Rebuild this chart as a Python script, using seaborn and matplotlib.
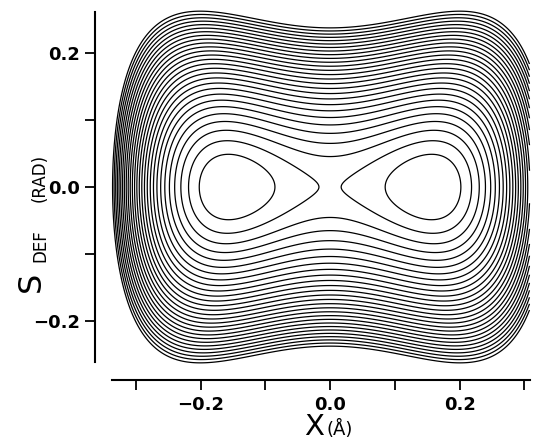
import numpy as np
import matplotlib
matplotlib.use("Agg")
import matplotlib.pyplot as plt
import seaborn as sns

# Model double-well surface in the proton coordinate X and the deformation S:
#   V(X, S) = H * ((X / X0)^2 - 1)^2 + (K0 - K2 * (X / X0)^2) * S^2
X_RANGE = [-0.342, 0.308]     # Å, extent of the computed grid
S_RANGE = [-0.27, 0.27]       # rad
WELL_X = [0.155]              # Å, minima at ±X0
BARRIER = [2.05]              # barrier height at X = 0 (contour units)
K_S = [460.0, 40.0]           # S force constant at X = 0 and its softening
LEVELS = list(range(1, 29))   # contour values, one unit apart

X_TICKS = [-0.2, 0.0, 0.2]
X_MINOR = [-0.3, -0.1, 0.1, 0.3]
Y_TICKS = [-0.2, 0.0, 0.2]
Y_MINOR = [-0.1, 0.1]

sns.set_theme(style="ticks")
plt.rcParams["font.family"] = ["DejaVu Sans"]

x = np.linspace(X_RANGE[0], X_RANGE[1], 700)
s = np.linspace(S_RANGE[0], S_RANGE[1], 600)
XX, SS = np.meshgrid(x, s)
u2 = (XX / WELL_X[0]) ** 2
V = BARRIER[0] * (u2 - 1.0) ** 2 + (K_S[0] - K_S[1] * u2) * SS ** 2

fig = plt.figure(figsize=(5.42, 4.42), dpi=100)
fig.patch.set_facecolor("white")
ax = fig.add_axes([0.1908, 0.1676, 0.7945, 0.8186])
ax.set_facecolor("white")

ax.contour(XX, SS, V, levels=LEVELS, colors="black", linewidths=0.9)

ax.set_xlim(-0.35, 0.315)
ax.set_ylim(-0.27, 0.27)

sns.despine(ax=ax)
ax.spines["left"].set_position(("outward", 6.0))
ax.spines["bottom"].set_position(("outward", 8.7))
ax.spines["left"].set_bounds(-0.261, 0.261)
ax.spines["bottom"].set_bounds(-0.3367, 0.309)
for side in ("left", "bottom"):
    ax.spines[side].set_linewidth(1.5)
    ax.spines[side].set_color("black")

ax.set_xticks(X_TICKS)
ax.set_xticks(X_MINOR, minor=True)
ax.set_yticks(Y_TICKS)
ax.set_yticks(Y_MINOR, minor=True)
fmt = lambda v: f"{v:.1f}".replace("-", "\u2212")
ax.set_xticklabels([fmt(v) for v in X_TICKS])
ax.set_yticklabels([fmt(v) for v in Y_TICKS])
ax.tick_params(which="both", direction="out", length=7, width=1.3, color="black")
ax.tick_params(axis="x", which="major", pad=4.5)
ax.tick_params(axis="y", which="major", pad=4)
for lab in ax.get_xticklabels() + ax.get_yticklabels():
    lab.set_fontsize(13)
    lab.set_fontweight("bold")
    lab.set_color("black")

W, Hpx = 542.0, 442.0
def fx(px):
    return px / W
def fy(py):
    return 1.0 - py / Hpx

# axis titles
fig.text(fx(304), fy(435), "X", fontsize=21, color="black",
         ha="left", va="baseline")
fig.text(fx(327), fy(435), "(Å)", fontsize=13, color="black",
         ha="left", va="baseline")
fig.text(fx(40), fy(292), "S", fontsize=23, color="black", rotation=90,
         rotation_mode="anchor", ha="left", va="baseline")
fig.text(fx(45), fy(262), "DEF", fontsize=12, color="black", rotation=90,
         rotation_mode="anchor", ha="left", va="baseline")
fig.text(fx(45), fy(202), "(RAD)", fontsize=12, color="black", rotation=90,
         rotation_mode="anchor", ha="left", va="baseline")

fig.savefig("out.png", dpi=100, facecolor="white")
